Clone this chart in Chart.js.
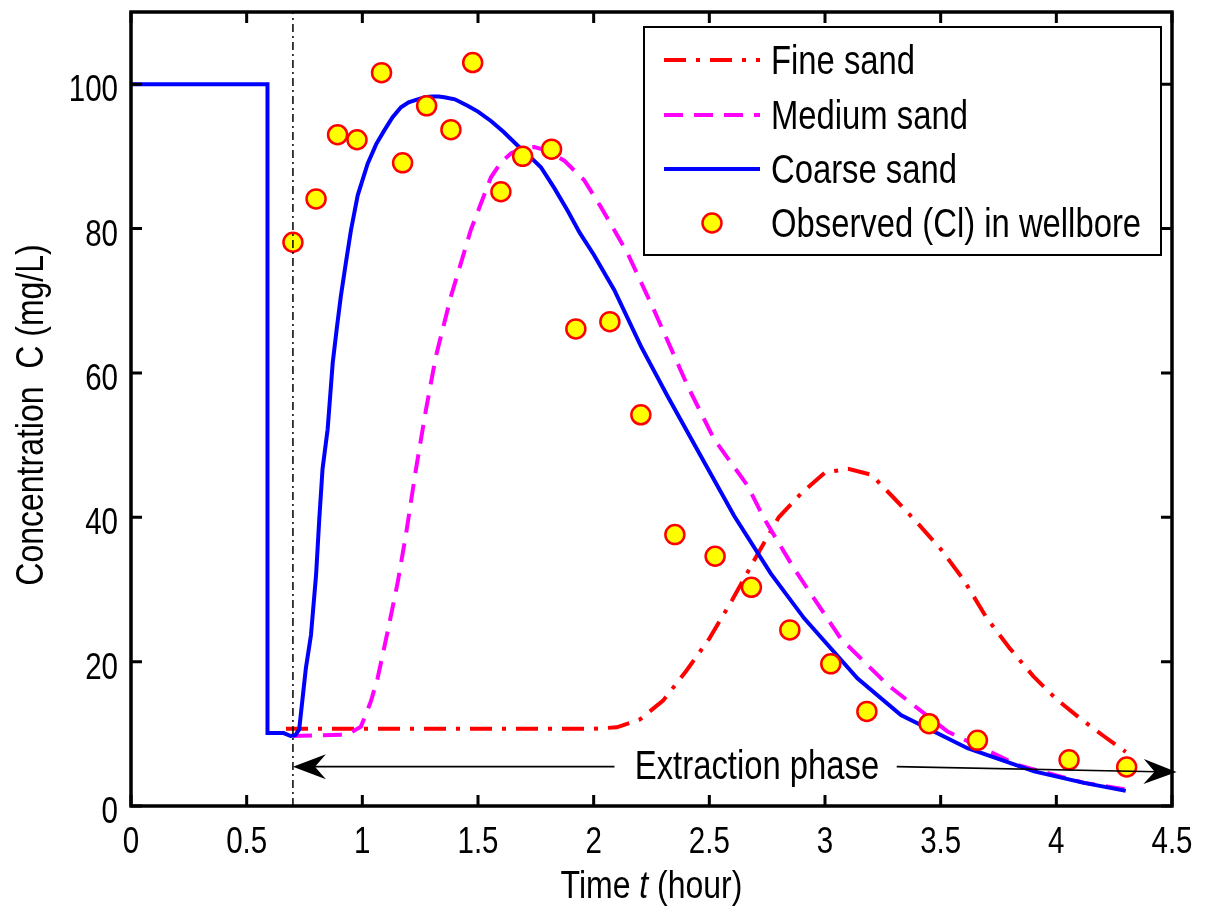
<!DOCTYPE html>
<html><head><meta charset="utf-8">
<script src="https://cdn.jsdelivr.net/npm/chart.js@4.4.1/dist/chart.umd.min.js"></script>
<style>html,body{margin:0;padding:0;background:#fff;} #wrap{width:1211px;height:909px;}</style>
</head><body><div id="wrap"><canvas id="c" width="1211" height="909"></canvas></div>
<script>
const FONT = '"Liberation Sans", Arial, sans-serif';
const NARROW = 0.82; // horizontal condensing to mimic a narrow Helvetica face

const xTicks = [0, 0.5, 1, 1.5, 2, 2.5, 3, 3.5, 4, 4.5];
const yTicks = [0, 20, 40, 60, 80, 100];

const seriesNames = ['Fine sand', 'Medium sand', 'Coarse sand', 'Observed (Cl) in wellbore'];

const fineT = [0.67, 1.0, 1.5, 2.0, 2.1, 2.2, 2.3, 2.4, 2.5, 2.6, 2.7, 2.8, 2.9, 3.0, 3.1, 3.2, 3.3, 3.4, 3.5, 3.6, 3.7, 3.8, 3.9, 4.0, 4.1, 4.2, 4.3];
const fineC = [10.7, 10.7, 10.7, 10.7, 10.9, 12.0, 14.6, 18.7, 23.2, 28.6, 34.4, 40.0, 43.4, 46.2, 46.7, 45.9, 42.6, 39.2, 35.6, 31.3, 26.0, 21.8, 18.0, 14.8, 12.2, 9.8, 7.5];

const mediumT = [0.70, 0.936, 0.994, 1.037, 1.066, 1.109, 1.153, 1.188, 1.232, 1.275, 1.318, 1.383, 1.469, 1.556, 1.60, 1.642, 1.69, 1.743, 1.80, 1.873, 1.959, 2.031, 2.146, 2.261, 2.406, 2.521, 2.665, 2.737, 2.866, 3.068, 3.27, 3.53, 3.832, 4.12, 4.3];
const mediumC = [9.7, 9.9, 11.0, 14.5, 17.7, 24.1, 31.0, 37.5, 46.7, 54.9, 62.3, 70.6, 79.8, 87.1, 89.2, 90.4, 91.1, 91.3, 90.8, 89.4, 86.7, 83.0, 76.6, 68.7, 58.2, 50.8, 44.4, 39.8, 32.9, 23.2, 16.8, 10.3, 5.7, 3.2, 2.3];

const coarseT = [0, 0.59, 0.59, 0.66, 0.69, 0.71, 0.727, 0.756, 0.778, 0.80, 0.814, 0.828, 0.85, 0.872, 0.89, 0.907, 0.93, 0.951, 0.98, 1.023, 1.06, 1.095, 1.13, 1.167, 1.20, 1.239, 1.27, 1.30, 1.33, 1.354, 1.40, 1.455, 1.50, 1.556, 1.61, 1.671, 1.72, 1.772, 1.83, 1.887, 1.94, 2.0, 2.089, 2.204, 2.319, 2.463, 2.607, 2.766, 2.91, 3.14, 3.328, 3.616, 3.904, 4.12, 4.3];
const coarseC = [100, 100, 10.1, 10.1, 9.7, 9.8, 10.6, 19.1, 23.7, 32.0, 39.8, 46.7, 52.2, 61.4, 66.3, 70.6, 75.5, 79.8, 84.6, 89.0, 91.7, 93.6, 95.4, 96.8, 97.5, 97.9, 98.2, 98.3, 98.3, 98.2, 97.9, 97.0, 96.2, 94.9, 93.4, 91.5, 90.1, 88.5, 85.6, 82.5, 79.4, 76.4, 71.5, 63.7, 56.8, 48.5, 40.2, 32.2, 26.0, 17.7, 12.6, 8.0, 4.8, 3.2, 2.1];

const obsT = [0.70, 0.80, 0.893, 0.977, 1.083, 1.174, 1.278, 1.383, 1.477, 1.599, 1.693, 1.818, 1.923, 2.07, 2.204, 2.351, 2.525, 2.682, 2.848, 3.025, 3.181, 3.45, 3.659, 4.055, 4.304];
const obsC = [78.1, 84.1, 93.0, 92.3, 101.6, 89.1, 97.0, 93.7, 103.0, 85.1, 90.0, 91.0, 66.1, 67.1, 54.2, 37.6, 34.6, 30.3, 24.4, 19.7, 13.1, 11.4, 9.1, 6.4, 5.4];

const extractionStart = 0.7;
const arrowText = 'Extraction phase';
const arrowTextX = 2.706;
const arrowLeftY = 5.45, arrowRightEnd = 4.52, arrowRightY = 4.7;
const arrowLeftGapEnd = 2.09, arrowRightGapStart = 3.31;

function zip(a, b) { return a.map((v, i) => ({ x: v, y: b[i] })); }

const styles = [
  { color: '#ff0000', dash: [22, 10, 4, 10] },
  { color: '#ff00ff', dash: [19, 11] },
  { color: '#0000ff', dash: [] }
];

function narrowText(ctx, text, x, y, size, align, italic) {
  ctx.save();
  ctx.translate(x, y);
  ctx.scale(NARROW, 1);
  ctx.font = (italic ? 'italic ' : '') + size + 'px ' + FONT;
  ctx.textAlign = align; ctx.textBaseline = 'alphabetic';
  ctx.fillText(text, 0, 0);
  const w = ctx.measureText(text).width * NARROW;
  ctx.restore();
  return w;
}
function narrowWidth(ctx, text, size, italic) {
  ctx.save();
  ctx.font = (italic ? 'italic ' : '') + size + 'px ' + FONT;
  const w = ctx.measureText(text).width * NARROW;
  ctx.restore();
  return w;
}

const framePlugin = {
  id: 'frame',
  afterDatasetsDraw(chart) {
    const ctx = chart.ctx, a = chart.chartArea;
    const xs = chart.scales.x, ys = chart.scales.y;
    ctx.save();
    const vx = xs.getPixelForValue(extractionStart);
    ctx.strokeStyle = '#000'; ctx.lineWidth = 1.5; ctx.setLineDash([8, 4, 2, 4]);
    ctx.beginPath(); ctx.moveTo(vx, a.bottom); ctx.lineTo(vx, a.top); ctx.stroke();
    ctx.setLineDash([]);
    function head(tipX, tipY, ang) {
      const L = 33, W = 12.5, N = 22;
      const c = Math.cos(ang), s = Math.sin(ang);
      const p = (dx, dy) => [tipX + dx * c - dy * s, tipY + dx * s + dy * c];
      const b1 = p(-L, -W), b2 = p(-L, W), n = p(-N, 0);
      ctx.beginPath(); ctx.moveTo(tipX, tipY); ctx.lineTo(b1[0], b1[1]); ctx.lineTo(n[0], n[1]); ctx.lineTo(b2[0], b2[1]); ctx.closePath(); ctx.fill();
    }
    ctx.fillStyle = '#000'; ctx.lineWidth = 1.6;
    const lx0 = xs.getPixelForValue(extractionStart), ly = ys.getPixelForValue(arrowLeftY);
    const lx1 = xs.getPixelForValue(arrowLeftGapEnd);
    ctx.beginPath(); ctx.moveTo(lx1, ly); ctx.lineTo(lx0 + 20, ly); ctx.stroke();
    head(lx0, ly, Math.PI);
    const rx0 = xs.getPixelForValue(arrowRightGapStart), rx1 = xs.getPixelForValue(arrowRightEnd), ry1 = ys.getPixelForValue(arrowRightY);
    const ang = Math.atan2(ry1 - ly, rx1 - rx0);
    ctx.beginPath(); ctx.moveTo(rx0, ly); ctx.lineTo(rx1 - 20 * Math.cos(ang), ry1 - 20 * Math.sin(ang)); ctx.stroke();
    head(rx1, ry1, ang);
    narrowText(ctx, arrowText, xs.getPixelForValue(arrowTextX), ly + 12, 40, 'center');
    ctx.restore();
  },
  afterDraw(chart) {
    const ctx = chart.ctx, a = chart.chartArea;
    const xs = chart.scales.x, ys = chart.scales.y;
    ctx.save();
    ctx.strokeStyle = '#000'; ctx.lineWidth = 3.5;
    ctx.strokeRect(a.left, a.top, a.right - a.left, a.bottom - a.top);
    ctx.lineWidth = 3; const T = 11;
    ctx.beginPath();
    xTicks.forEach(v => { const x = xs.getPixelForValue(v); ctx.moveTo(x, a.bottom); ctx.lineTo(x, a.bottom - T); ctx.moveTo(x, a.top); ctx.lineTo(x, a.top + T); });
    yTicks.forEach(v => { const y = ys.getPixelForValue(v); ctx.moveTo(a.left, y); ctx.lineTo(a.left + T, y); ctx.moveTo(a.right, y); ctx.lineTo(a.right - T, y); });
    ctx.stroke();
    ctx.fillStyle = '#000';
    xTicks.forEach(v => narrowText(ctx, String(v), xs.getPixelForValue(v), a.bottom + 47, 36, 'center'));
    yTicks.forEach(v => narrowText(ctx, String(v), a.left - 13, ys.getPixelForValue(v) + 17, 36, 'right'));
    const parts = [['Time ', false], ['t', true], [' (hour)', false]];
    let tot = 0; parts.forEach(p => { tot += narrowWidth(ctx, p[0], 39, p[1]); });
    let x = (a.left + a.right) / 2 - tot / 2;
    parts.forEach(p => { x += narrowText(ctx, p[0], x, 898, 39, 'left', p[1]); });
    ctx.save();
    ctx.translate(43, 415); ctx.rotate(-Math.PI / 2);
    narrowText(ctx, 'Concentration  C (mg/L)', 0, 0, 39, 'center');
    ctx.restore();
    const bx = 644, by = 27, bw = 517, bh = 228;
    ctx.fillStyle = '#fff'; ctx.fillRect(bx, by, bw, bh);
    ctx.strokeStyle = '#000'; ctx.lineWidth = 2; ctx.strokeRect(bx, by, bw, bh);
    const rows = [60, 115, 169, 223];
    chart.data.datasets.forEach((ds, i) => {
      const y = rows[i];
      if (i < 3) {
        ctx.strokeStyle = styles[i].color; ctx.lineWidth = 4; ctx.setLineDash(styles[i].dash);
        ctx.beginPath(); ctx.moveTo(664, y); ctx.lineTo(760, y); ctx.stroke(); ctx.setLineDash([]);
      } else {
        ctx.beginPath(); ctx.arc(712, y, 9.5, 0, Math.PI * 2);
        ctx.fillStyle = '#ffff00'; ctx.fill(); ctx.strokeStyle = '#ff0000'; ctx.lineWidth = 2.5; ctx.stroke();
      }
      ctx.fillStyle = '#000';
      narrowText(ctx, ds.label, 771, y + 14, 40, 'left');
    });
    ctx.restore();
  }
};

new Chart(document.getElementById('c'), {
  type: 'scatter',
  data: {
    datasets: [
      { label: seriesNames[0], data: zip(fineT, fineC), showLine: true, borderColor: styles[0].color, borderWidth: 4, borderDash: styles[0].dash, pointRadius: 0, order: 4 },
      { label: seriesNames[1], data: zip(mediumT, mediumC), showLine: true, borderColor: styles[1].color, borderWidth: 4, borderDash: styles[1].dash, pointRadius: 0, order: 3 },
      { label: seriesNames[2], data: zip(coarseT, coarseC), showLine: true, borderColor: styles[2].color, borderWidth: 4, pointRadius: 0, order: 2 },
      { label: seriesNames[3], data: zip(obsT, obsC), showLine: false, pointRadius: 9.5, pointBackgroundColor: '#ffff00', pointBorderColor: '#ff0000', pointBorderWidth: 2.5, order: 1 }
    ]
  },
  options: {
    responsive: false, animation: false, devicePixelRatio: 1,
    layout: { padding: { top: 10, right: 39, left: 0, bottom: 0 } },
    plugins: { legend: { display: false }, tooltip: { enabled: false } },
    scales: {
      x: {
        type: 'linear', min: 0, max: 4.5,
        afterBuildTicks: s => { s.ticks = xTicks.map(v => ({ value: v })); },
        afterFit: s => { s.height = 103; },
        grid: { display: false, drawTicks: false }, border: { display: false },
        ticks: { display: false }
      },
      y: {
        type: 'linear', min: 0, max: 110,
        afterBuildTicks: s => { s.ticks = yTicks.map(v => ({ value: v })); },
        afterFit: s => { s.width = 131; },
        grid: { display: false, drawTicks: false }, border: { display: false },
        ticks: { display: false }
      }
    }
  },
  plugins: [framePlugin]
});
</script>
</body></html>
